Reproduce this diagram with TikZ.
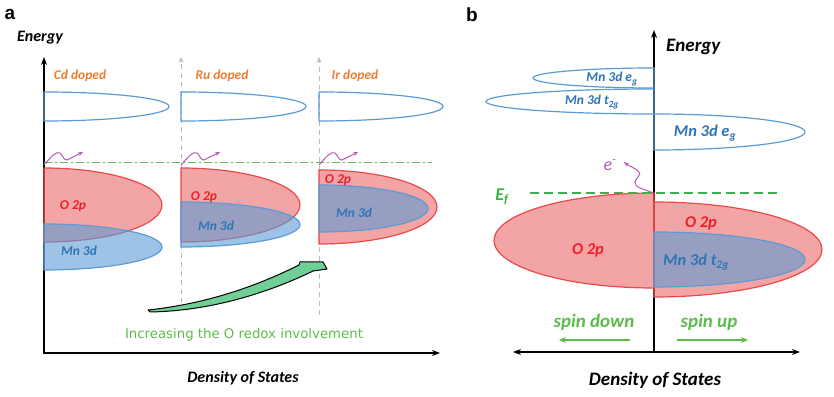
\documentclass[tikz,border=0pt]{standalone}
\usepackage{fontspec}
\setmainfont{Carlito}
\newfontfamily\redoxfont{DejaVu Sans}
\newfontfamily\panelfont{Liberation Sans}
\usetikzlibrary{arrows.meta}
\definecolor{cnred}{HTML}{E84A4A}
\definecolor{cnredtxt}{HTML}{E8202A}
\definecolor{cnblue}{HTML}{5B9BD5}
\definecolor{cnbluetxt}{HTML}{2E75B6}
\definecolor{cnorange}{HTML}{ED7D31}
\definecolor{cngreen}{HTML}{5DBB4C}
\definecolor{cnfermi}{HTML}{3DB04B}
\definecolor{cnpurple}{HTML}{B45AB4}
\definecolor{cnmint}{HTML}{6FCF97}
\definecolor{cngray}{HTML}{BBBBBB}

\begin{document}
\begin{tikzpicture}[x=1pt, y=1pt,
  axisline/.style={line width=1.3pt, black},
  guide/.style={cngray, line width=1pt, dash pattern=on 5pt off 4pt},
  eband/.style={draw=cnblue, line width=1.2pt},
  oband/.style={draw=cnred, fill=cnred, fill opacity=0.5, line width=1.2pt},
  mband/.style={draw=cnblue, fill=cnblue, fill opacity=0.6, line width=1.2pt},
  lab/.style={font=\bfseries\itshape\fontsize{13.5}{13.5}\selectfont, inner sep=1pt},
  biglab/.style={font=\bfseries\itshape\fontsize{16.5}{16.5}\selectfont},
  oplab/.style={lab, text=cnredtxt},
  mnlab/.style={lab, text=cnbluetxt},
  dopelab/.style={lab, text=cnorange},
  axlab/.style={font=\bfseries\itshape\fontsize{16}{16}\selectfont, inner sep=1pt},
  paneltag/.style={font=\panelfont\bfseries\fontsize{19}{19}\selectfont, inner sep=0pt},
  wiggle/.style={cnpurple, line width=1pt, -{Stealth[length=5pt, width=4pt]}},
  spinarrow/.style={cngreen, line width=1.6pt, -{Stealth[length=7pt, width=6pt]}},
  spinlab/.style={font=\bfseries\itshape\fontsize{19}{19}\selectfont, text=cngreen, inner sep=1pt}]
\useasboundingbox (0,0) rectangle (834,396);

% panel a
\node[paneltag] (pa) at (10,382) {a};
\node[axlab] (enera) at (40,358) {Energy};
\node[axlab] (dosa) at (243,18) {Density of States};
\coordinate (atop) at (44,339);
\coordinate (aorig) at (44,43);
\coordinate (aright) at (440,43);
\foreach \gx/\gy in {181/93, 319/81} {
  \coordinate (g\gx b) at (\gx,\gy);
  \coordinate (g\gx t) at (\gx,339);
  \draw[guide, -{Stealth[length=6pt, width=5pt]}] (g\gx b) -- (g\gx t);
}
\draw[axisline, {Stealth[length=8pt, width=6pt]}-{Stealth[length=8pt, width=6pt]}] (atop) -- (aorig) -- (aright);

\node[dopelab] (cd) at (80,320) {Cd doped};
\node[dopelab] (ru) at (222,320) {Ru doped};
\node[dopelab] (ir) at (355,320) {Ir doped};

\foreach \bx/\brx in {44/125, 181/125, 319/124}
  \draw[eband] (\bx,304) arc[start angle=90, end angle=-90, x radius=\brx, y radius=14.5] -- cycle;

\coordinate (efa) at (44,233);
\coordinate (efb) at (432,233);
\draw[cngreen, line width=1pt, dash pattern=on 8pt off 3pt on 2pt off 3pt] (efa) -- (efb);

\foreach \bx/\rc/\rrx/\mc/\mry/\mrx in {44/191/118/149/23/118, 181/191/119/171.5/22.5/119, 319/189/118/187.5/23.5/109} {
  \draw[oband] (\bx,{\rc+37}) arc[start angle=90, end angle=-90, x radius=\rrx, y radius=37] -- cycle;
  \draw[mband] (\bx,{\mc+\mry}) arc[start angle=90, end angle=-90, x radius=\mrx, y radius=\mry] -- cycle;
}

\node[oplab] (o2pcd) at (73,190) {O 2p};
\node[mnlab] (mncd) at (79,145) {Mn 3d};
\node[oplab] (o2pru) at (204,199) {O 2p};
\node[mnlab] (mnru) at (216,170) {Mn 3d};
\node[oplab] (o2pir) at (338,216) {O 2p};
\node[mnlab] (mnir) at (354,183) {Mn 3d};

\foreach \wx in {44,181,319} {
  \coordinate (w\wx s) at (\wx,231);
  \coordinate (w\wx e) at ({\wx+39},244);
  \draw[wiggle] (w\wx s) .. controls ({\wx+8},240) and ({\wx+12},245) .. ({\wx+16},243)
    .. controls ({\wx+19},241) and ({\wx+19},236) .. ({\wx+23},236) -- (w\wx e);
}

\draw[black, line width=1pt, fill=cnmint, line join=round]
  (148,86) .. controls (205,92) and (255,109) .. (299,131) -- (300,134) -- (323,134)
  -- (327,127) -- (313,125) .. controls (268,103) and (210,85) .. (150,84) -- cycle;
\node[font=\redoxfont\fontsize{13.3}{13.3}\selectfont, text=cngreen] (redox) at (244,61) {Increasing the O redox involvement};

% panel b
\node[paneltag] (pb) at (472,381) {b};
\node[axlab, font=\bfseries\itshape\fontsize{19}{19}\selectfont, anchor=west] (enerb) at (665,349) {Energy};
\node[axlab, font=\bfseries\itshape\fontsize{19}{19}\selectfont] (dosb) at (655,16) {Density of States};
\coordinate (bbot) at (654,44);
\coordinate (btop) at (654,366);
\coordinate (bleft) at (513,44);
\coordinate (bright) at (800,44);
\draw[axisline, -{Stealth[length=8pt, width=6pt]}] (bbot) -- (btop);
\draw[axisline, {Stealth[length=8pt, width=6pt]}-{Stealth[length=8pt, width=6pt]}] (bleft) -- (bright);

\draw[eband] (654,328) arc[start angle=90, end angle=270, x radius=121, y radius=10] -- cycle;
\draw[eband] (654,307) arc[start angle=90, end angle=270, x radius=168, y radius=12.5] -- cycle;
\draw[eband] (654,282) arc[start angle=90, end angle=-90, x radius=151, y radius=18] -- cycle;
\node[mnlab] (egdn) at (612,317) {Mn 3d e\textsubscript{g}};
\node[mnlab] (t2gdn) at (592,294) {Mn 3d t\textsubscript{2g}};
\node[mnlab, biglab] (egup) at (705,263) {Mn 3d e\textsubscript{g}};

\draw[oband] (654,203) arc[start angle=90, end angle=270, x radius=160, y radius=47.5] -- cycle;
\draw[oband] (654,194) arc[start angle=90, end angle=-90, x radius=168, y radius=47.5] -- cycle;
\draw[mband] (654,164) arc[start angle=90, end angle=-90, x radius=151, y radius=27.5] -- cycle;
\node[oplab, biglab] (o2pdn) at (588,146) {O 2p};
\node[oplab, biglab] (o2pup) at (701,173) {O 2p};
\node[mnlab, biglab] (t2gup) at (696,134) {Mn 3d t\textsubscript{2g}};

\coordinate (efl) at (530,203);
\coordinate (efr) at (782,203);
\draw[cnfermi, line width=1.2pt, dash pattern=on 9pt off 5pt] (efl) -- (efr);
\node[lab, font=\bfseries\itshape\fontsize{18}{18}\selectfont, text=cnfermi] (ef) at (502,199) {E\textsubscript{f}};

\node[font=\itshape\fontsize{18}{18}\selectfont, text=cnpurple, inner sep=1pt] (elec) at (610,231) {e\textsuperscript{-}};
\coordinate (ws) at (653,203);
\coordinate (we) at (624,234);
\draw[wiggle] (ws) .. controls (645,207) and (634,208) .. (635,214)
  .. controls (636,219) and (642,221) .. (639,224) .. controls (636,228) and (630,229) .. (we);

\node[spinlab] (sdn) at (594,74) {spin down};
\node[spinlab] (sup) at (709,74) {spin up};
\coordinate (sdna) at (630,56);
\coordinate (sdnb) at (559,56);
\coordinate (supa) at (677,56);
\coordinate (supb) at (748,56);
\draw[spinarrow] (sdna) -- (sdnb);
\draw[spinarrow] (supa) -- (supb);
\end{tikzpicture}
\end{document}
